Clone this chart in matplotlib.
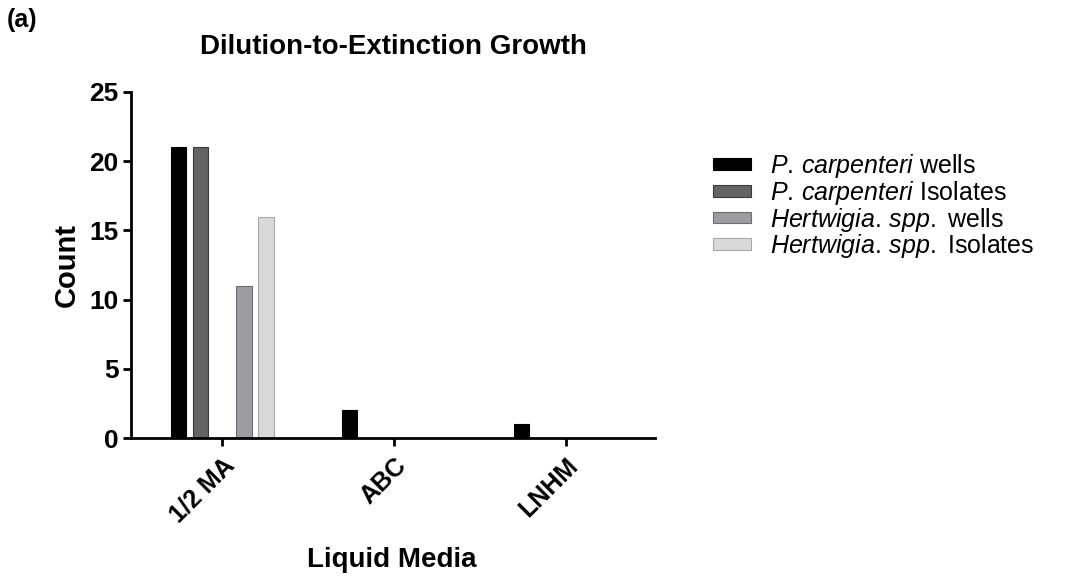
import numpy as np
import matplotlib
matplotlib.use("Agg")
import matplotlib.pyplot as plt

plt.rcParams['font.family'] = ['Liberation Sans', 'DejaVu Sans']
plt.rcParams['mathtext.fontset'] = 'custom'
plt.rcParams['mathtext.it'] = 'Liberation Sans:italic'
plt.rcParams['mathtext.rm'] = 'Liberation Sans'

# data
media = ['1/2 MA', 'ABC', 'LNHM']
series = ['$\\it{P.\\,carpenteri}$ wells', '$\\it{P.\\,carpenteri}$ Isolates',
          '$\\it{Hertwigia.\\,spp.}$ wells', '$\\it{Hertwigia.\\,spp.}$ Isolates']
pc_wells = [21, 2, 1]
pc_isolates = [21, 0, 0]
hs_wells = [11, 0, 0]
hs_isolates = [16, 0, 0]
values = [pc_wells, pc_isolates, hs_wells, hs_isolates]

colors = ['#000000', '#636363', '#9d9da1', '#d9d9d9']
edges = ['#000000', '#3a3a3a', '#6e6e72', '#a8a8a8']
offsets = [-2, -1, 1, 2]
slot = 0.128
width = 0.088

fig = plt.figure(figsize=(10.67, 5.8), dpi=100)
ax = fig.add_axes([0.1228, 0.2448, 0.491, 0.5966])

x = np.arange(len(media))
for vals, c, ec, off, lab in zip(values, colors, edges, offsets, series):
    ax.bar(x + off * slot, vals, width=width, color=c, edgecolor=ec, linewidth=0.8, label=lab)

ax.set_xlim(-0.53, 2.52)
ax.set_ylim(0, 25)
ax.set_yticks([0, 5, 10, 15, 20, 25])
ax.set_xticks(x)
ax.set_xticklabels(media, rotation=45, ha='right', rotation_mode='anchor', fontsize=18, fontweight='bold')
for t in ax.get_yticklabels():
    t.set_fontsize(19)
    t.set_fontweight('bold')
ax.tick_params(axis='both', width=2, length=6, color='black')
ax.tick_params(axis='y', pad=3)
ax.tick_params(axis='x', pad=5)
ax.spines['top'].set_visible(False)
ax.spines['right'].set_visible(False)
ax.spines['left'].set_linewidth(2)
ax.spines['bottom'].set_linewidth(2)

# labels placed in figure coords
fig.text(67 / 1067, 1 - 265 / 580, 'Count', rotation=90, fontsize=21, fontweight='bold',
         ha='center', va='center')
fig.text(392 / 1067, 1 - 567 / 580, 'Liquid Media', fontsize=20, fontweight='bold',
         ha='center', va='baseline')
fig.text(393 / 1067, 1 - 47 / 580, 'Dilution-to-Extinction Growth', fontsize=20, fontweight='bold',
         ha='center', va='center')
fig.text(0.006, 1 - 20 / 580, '(a)', fontsize=18, fontweight='bold', va='center')

fig.legend(loc='upper left', bbox_to_anchor=(713 / 1067, 1 - 152 / 580), frameon=False,
           fontsize=18, borderpad=0, borderaxespad=0,
           handlelength=1.5, handleheight=0.35, handletextpad=0.8, labelspacing=-0.05)

fig.savefig('out.png', dpi=100)
